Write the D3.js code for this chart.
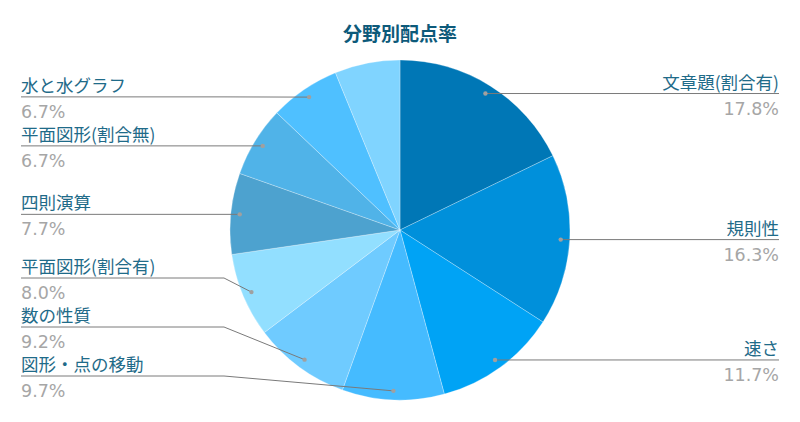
<!DOCTYPE html>
<html>
<head>
<meta charset="utf-8">
<script src="https://cdn.jsdelivr.net/npm/d3@7"></script>
<style>
  body { margin: 0; background: #fff; }
</style>
</head>
<body>
<div id="chart"></div>
<script>
const width = 800, height = 422;

// data (last slice has no label shown)
const categories = ["文章題(割合有)", "規則性", "速さ", "図形・点の移動", "数の性質",
  "平面図形(割合有)", "四則演算", "平面図形(割合無)", "水と水グラフ", null];
const values = [17.8, 16.3, 11.7, 9.7, 9.2, 8.0, 7.7, 6.7, 6.7, 6.2];
const colors = ["#0077b6", "#0090db", "#00a3f5", "#45bbff", "#6fcbff",
  "#92dfff", "#4da2cf", "#50b3e8", "#4fc0ff", "#80d4ff"];

const data = categories.map((c, i) => ({ name: c, value: values[i], color: colors[i] }));

const cx = 400, cy = 230, radius = 170;

const svg = d3.select("#chart")
  .append("svg")
  .attr("width", width)
  .attr("height", height);

svg.append("text")
  .attr("x", width / 2)
  .attr("y", 41)
  .attr("text-anchor", "middle")
  .style("font-family", "'Noto Sans CJK JP'")
  .style("font-weight", "bold")
  .style("font-size", "19px")
  .style("fill", "#0d5a7a")
  .text("分野別配点率");

const g = svg.append("g")
  .attr("transform", `translate(${cx},${cy})`);

const pie = d3.pie()
  .sort(null)
  .value(d => d.value);

const arcs = pie(data);

const arc = d3.arc()
  .innerRadius(0)
  .outerRadius(radius);

g.selectAll("path.slice")
  .data(arcs)
  .enter()
  .append("path")
  .attr("class", "slice")
  .attr("d", arc)
  .style("fill", d => d.data.color)
  .style("stroke", "#fff")
  .style("stroke-width", 0.6)
  .style("stroke-opacity", 0.45);

// label layout
const pointArc = d3.arc().innerRadius(radius - 9).outerRadius(radius - 9);
const labelH = 49, maxY = 376 - cy;
const elbowX = 176, edgeX = 379;

const labeled = arcs.filter(d => d.data.name !== null).map(d => {
  const p = pointArc.centroid(d);
  const mid = (d.startAngle + d.endAngle) / 2;
  return { d: d, px: p[0], py: p[1], side: mid < Math.PI ? 1 : -1, ly: p[1] };
});

[1, -1].forEach(side => {
  const list = labeled.filter(l => l.side === side).sort((a, b) => a.py - b.py);
  let next = maxY + labelH;
  for (let i = list.length - 1; i >= 0; i--) {
    list[i].ly = Math.min(list[i].py, next - labelH);
    next = list[i].ly;
  }
});

const lab = g.selectAll("g.label")
  .data(labeled)
  .enter()
  .append("g")
  .attr("class", "label");

lab.append("polyline")
  .attr("points", l => [
    [l.side * edgeX, l.ly],
    [l.side * elbowX, l.ly],
    [l.px, l.py]
  ].map(p => p.join(",")).join(" "))
  .style("fill", "none")
  .style("stroke", "#7a7a7a")
  .style("stroke-width", 1);

lab.append("circle")
  .attr("cx", l => l.px)
  .attr("cy", l => l.py)
  .attr("r", 2.2)
  .style("fill", "#a0a0a0");

lab.append("text")
  .attr("x", l => l.side * edgeX)
  .attr("y", l => l.ly - 5)
  .attr("text-anchor", l => l.side > 0 ? "end" : "start")
  .style("font-family", "'Noto Sans CJK JP'")
  .style("font-size", "17.5px")
  .style("fill", "#1f6b89")
  .text(l => l.d.data.name);

lab.append("text")
  .attr("x", l => l.side * edgeX)
  .attr("y", l => l.ly + 21)
  .attr("text-anchor", l => l.side > 0 ? "end" : "start")
  .style("font-family", "'DejaVu Sans'")
  .style("font-size", "17.5px")
  .style("fill", "#a6a6a6")
  .text(l => d3.format(".1f")(l.d.data.value) + "%");
</script>
</body>
</html>
